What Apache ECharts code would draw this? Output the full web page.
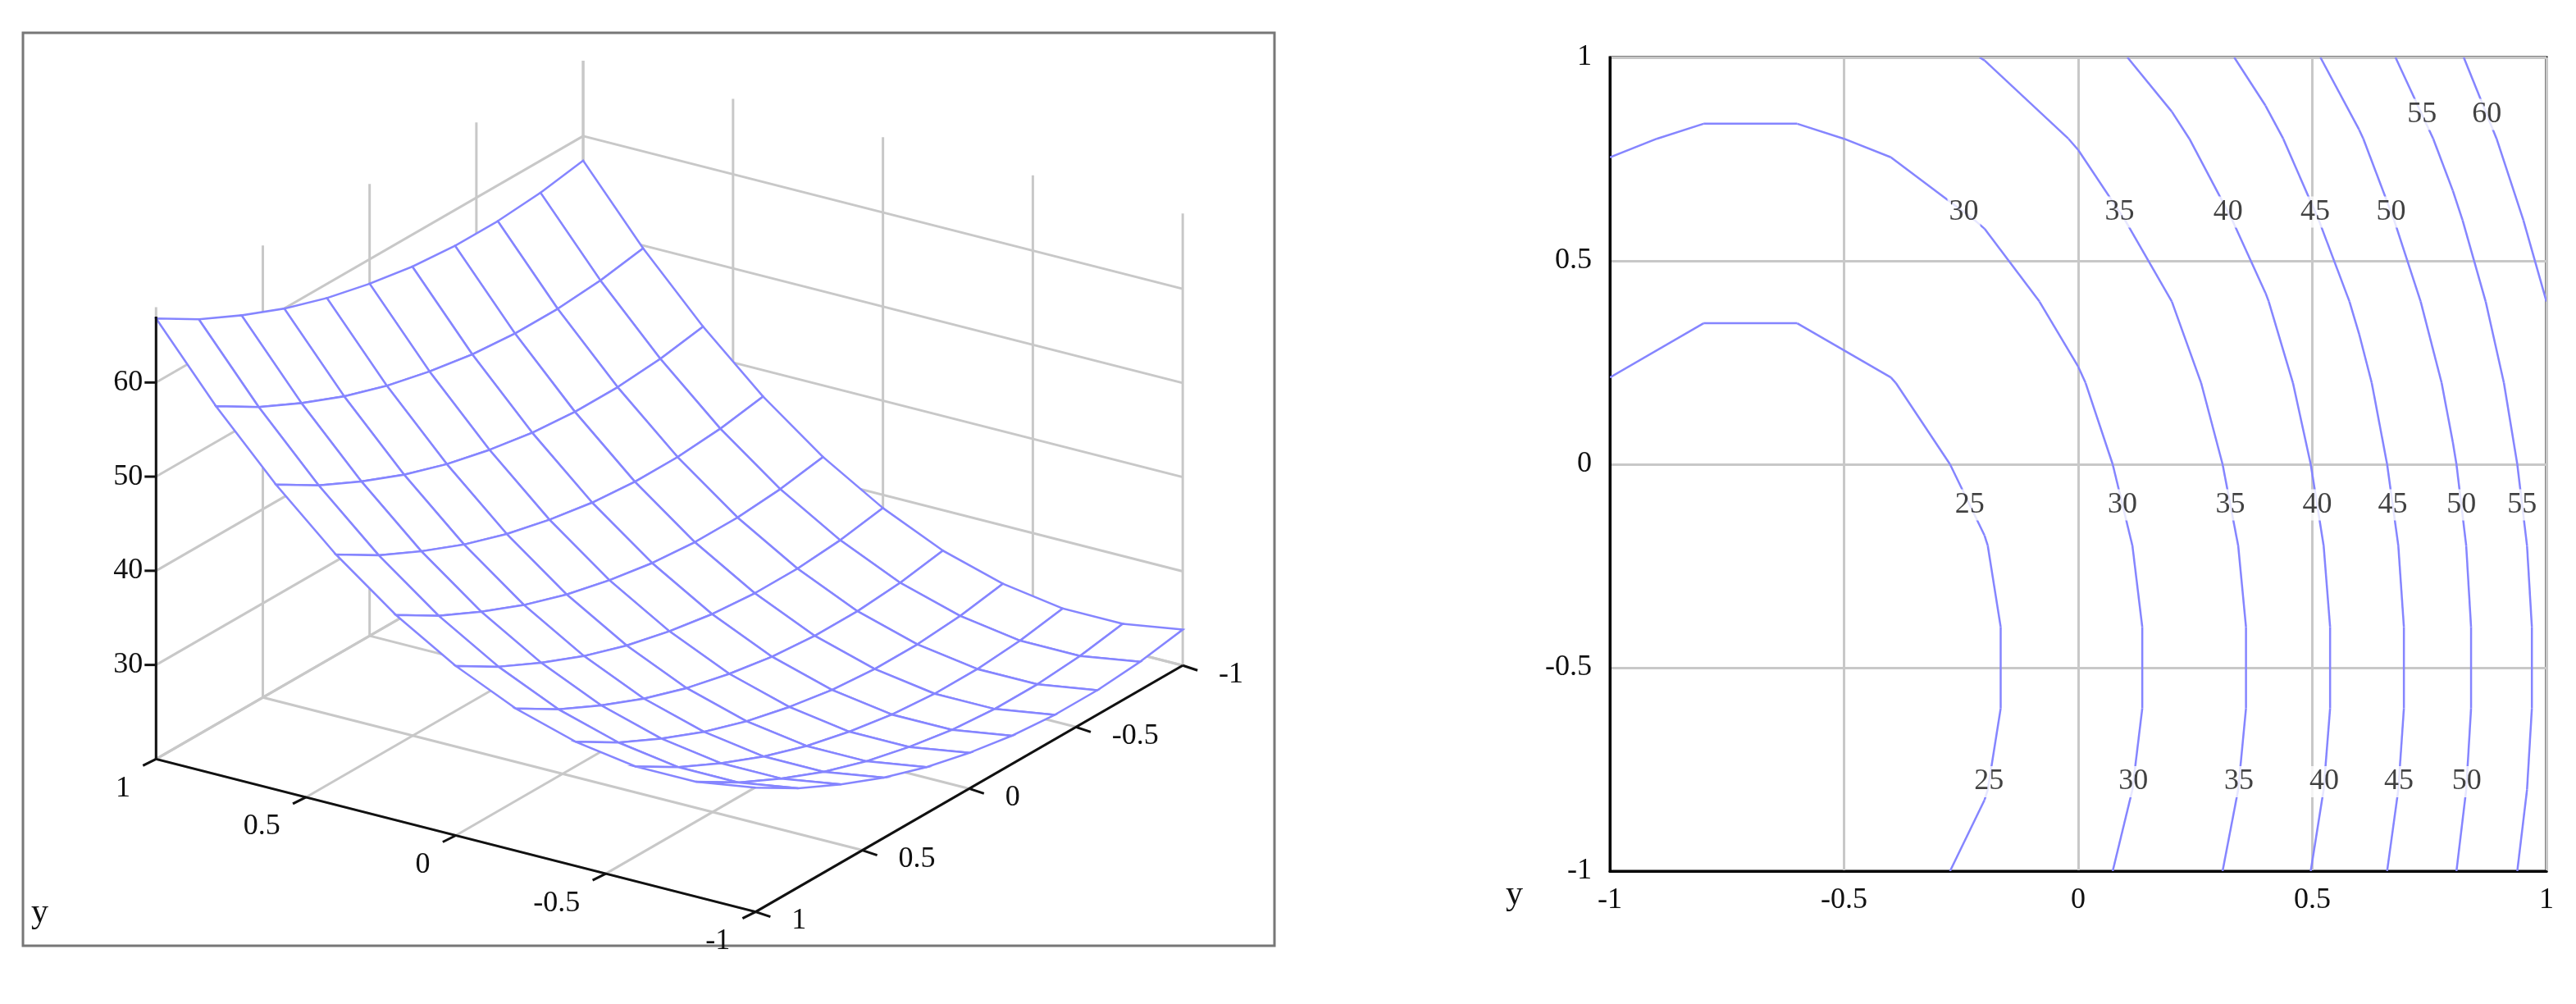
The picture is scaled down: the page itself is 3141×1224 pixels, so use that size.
<!DOCTYPE html>
<html><head><meta charset="utf-8">
<script src="https://cdn.jsdelivr.net/npm/echarts@6/dist/echarts.min.js"></script>
<style>html,body{margin:0;padding:0;background:#fff}#c{width:3141px;height:1224px}</style>
</head><body><div id="c"></div>
<script>
// grid coordinates
const xs = [-1,-0.8,-0.6,-0.4,-0.2,0,0.2,0.4,0.6,0.8,1];
const ys = [-1,-0.8,-0.6,-0.4,-0.2,0,0.2,0.4,0.6,0.8,1];
// z values, one row per y (from y=-1 to y=1), columns along x
const zRows = [
 [23.8,22.8,22.8,23.8,25.7,28.6,32.4,37.2,43.0,49.7,57.4],
 [23.0,22.0,22.0,23.0,24.9,27.8,31.6,36.4,42.2,48.9,56.6],
 [22.6,21.6,21.6,22.6,24.5,27.4,31.2,36.0,41.8,48.5,56.2],
 [22.6,21.6,21.6,22.6,24.5,27.4,31.2,36.0,41.8,48.5,56.2],
 [23.0,22.0,22.0,23.0,24.9,27.8,31.6,36.4,42.2,48.9,56.6],
 [23.8,22.8,22.8,23.8,25.7,28.6,32.4,37.2,43.0,49.7,57.4],
 [24.9,23.9,23.9,24.9,26.8,29.7,33.5,38.3,44.1,50.8,58.5],
 [26.4,25.4,25.4,26.4,28.3,31.2,35.0,39.8,45.6,52.3,60.0],
 [28.3,27.3,27.3,28.3,30.2,33.1,36.9,41.7,47.5,54.2,61.9],
 [30.5,29.5,29.5,30.5,32.4,35.3,39.1,43.9,49.7,56.4,64.1],
 [33.2,32.2,32.2,33.2,35.1,38.0,41.8,46.6,52.4,59.1,66.8]
];
const levels = [25,30,35,40,45,50,55,60];
const planeTicks = [-1,-0.5,0,0.5,1];
const zTicks = [30,40,50,60];
const labelRows = [[-0.1,[25,30,35,40,45,50,55]],[-0.78,[25,30,35,40,45,50]],[0.62,[30,35,40,45,50]],[0.86,[55,60]]];

const FONT = 'Liberation Serif';
const BLUE = '#8585ff';
const FS = 36;
const S = 2.003, Z0 = 20, ZTOP = 68;
function proj(a,b,z){
  return [S*(407.5 - 182.5*a - 130*b), S*(433.5 - 46.5*a + 75*b - (z-Z0)*5.73)];
}
function zAt(i,j){ return zRows[j][i]; }

const quads=[];
for(let j=0;j<ys.length-1;j++)for(let i=0;i<xs.length-1;i++)quads.push([i,j,(xs[i]+xs[i+1])/2-(ys[j]+ys[j+1])/2]);
quads.sort((p,q)=>q[2]-p[2]);

function segments(L){
  const out=[];
  for(let j=0;j<ys.length-1;j++)for(let i=0;i<xs.length-1;i++){
    const c=[[xs[i],ys[j],zAt(i,j)],[xs[i+1],ys[j],zAt(i+1,j)],[xs[i+1],ys[j+1],zAt(i+1,j+1)],[xs[i],ys[j+1],zAt(i,j+1)]];
    const pts=[];
    for(let k=0;k<4;k++){const p=c[k],q=c[(k+1)%4];
      if((p[2]<L)!==(q[2]<L)){const t=(L-p[2])/(q[2]-p[2]);pts.push([p[0]+t*(q[0]-p[0]),p[1]+t*(q[1]-p[1])]);}}
    for(let k=0;k+1<pts.length;k+=2)out.push([pts[k][0],pts[k][1],pts[k+1][0],pts[k+1][1]]);
  }
  return out;
}
const segData=[];levels.forEach(L=>segments(L).forEach(s=>segData.push(s)));
const labData=[];
labelRows.forEach(([y0,lv])=>{
  let j=0;while(j<ys.length-2&&ys[j+1]<y0)j++;
  const t=(y0-ys[j])/(ys[j+1]-ys[j]);
  const row=xs.map((_,i)=>zAt(i,j)*(1-t)+zAt(i,j+1)*t);
  lv.forEach(L=>{let best=null;
    for(let i=0;i<xs.length-1;i++){if((row[i]<L)!==(row[i+1]<L)){const u=(L-row[i])/(row[i+1]-row[i]);best=xs[i]+u*(xs[i+1]-xs[i]);}}
    if(best!==null)labData.push([best,y0,L]);});
});

const chart=echarts.init(document.getElementById('c'));
const line=(api,p,q,st)=>({type:'line',shape:{x1:api.coord(p)[0],y1:api.coord(p)[1],x2:api.coord(q)[0],y2:api.coord(q)[1]},style:st});
const txt=(api,p,s,al,va)=>({type:'text',x:api.coord(p)[0],y:api.coord(p)[1],style:{text:s,font:FS+'px "'+FONT+'"',fill:'#111',align:al,verticalAlign:va}});
chart.setOption({
  animation:false,
  grid:[{left:0,top:0,width:3141,height:1224,show:false},
        {left:1963,top:70,width:1142,height:992,show:true,borderColor:'#000',borderWidth:3,z:0}],
  xAxis:[{gridIndex:0,type:'value',min:0,max:3141,show:false},
         {gridIndex:1,type:'value',min:-1,max:1,interval:0.5,axisLine:{onZero:false,lineStyle:{color:'#000',width:3}},axisTick:{show:false},
          splitLine:{lineStyle:{color:'#c8c8c8',width:3}},axisLabel:{fontFamily:FONT,fontSize:FS,color:'#111',margin:18}}],
  yAxis:[{gridIndex:0,type:'value',min:0,max:1224,inverse:true,show:false},
         {gridIndex:1,type:'value',min:-1,max:1,interval:0.5,axisLine:{onZero:false,lineStyle:{color:'#000',width:3}},axisTick:{show:false},
          splitLine:{lineStyle:{color:'#c8c8c8',width:3}},axisLabel:{fontFamily:FONT,fontSize:FS,color:'#111',margin:22}}],
  graphic:[
    {type:'rect',shape:{x:28,y:40,width:1526,height:1113},style:{fill:'none',stroke:'#777',lineWidth:3}},
    {type:'text',left:38,top:1092,style:{text:'y',font:'42px "'+FONT+'"',fill:'#111'}},
    {type:'text',left:1836,top:1070,style:{text:'y',font:'42px "'+FONT+'"',fill:'#111'}}
  ],
  series:[
    {type:'custom',xAxisIndex:0,yAxisIndex:0,data:[0],z:1,renderItem:(p,api)=>{
      const ch=[];const g={stroke:'#c8c8c8',lineWidth:3};
      planeTicks.forEach(t=>{
        ch.push(line(api,proj(t,-1,Z0),proj(t,1,Z0),g));
        ch.push(line(api,proj(-1,t,Z0),proj(1,t,Z0),g));
        ch.push(line(api,proj(1,t,Z0),proj(1,t,ZTOP),g));
        ch.push(line(api,proj(t,-1,Z0),proj(t,-1,ZTOP),g));
      });
      zTicks.concat([Z0]).forEach(z=>{
        ch.push(line(api,proj(1,-1,z),proj(1,1,z),g));
        ch.push(line(api,proj(1,-1,z),proj(-1,-1,z),g));
      });
      return {type:'group',children:ch};
    }},
    {type:'custom',xAxisIndex:0,yAxisIndex:0,data:quads,z:2,renderItem:(p,api)=>{
      const i=api.value(0),j=api.value(1);
      const pts=[[i,j],[i+1,j],[i+1,j+1],[i,j+1]].map(([a,b])=>api.coord(proj(xs[a],ys[b],zAt(a,b))));
      return {type:'polygon',shape:{points:pts},style:{fill:'#fff',stroke:BLUE,lineWidth:2.5}};
    }},
    {type:'custom',xAxisIndex:0,yAxisIndex:0,data:[0],z:3,renderItem:(p,api)=>{
      const ch=[];const k={stroke:'#111',lineWidth:3};
      ch.push(line(api,proj(1,1,Z0),proj(-1,1,Z0),k));
      ch.push(line(api,proj(-1,1,Z0),proj(-1,-1,Z0),k));
      ch.push(line(api,proj(1,1,Z0),proj(1,1,ZTOP-1),k));
      planeTicks.forEach(t=>{
        const a=api.coord(proj(t,1,Z0));ch.push({type:'line',shape:{x1:a[0],y1:a[1],x2:a[0]-16,y2:a[1]+8},style:k});
        ch.push(txt(api,proj(t,1.12,Z0),String(t),'right','top'));
        const b=api.coord(proj(-1,t,Z0));ch.push({type:'line',shape:{x1:b[0],y1:b[1],x2:b[0]+18,y2:b[1]+6},style:k});
        ch.push(txt(api,proj(-1.12,t,Z0),String(t),'left','middle'));
      });
      zTicks.forEach(z=>{const c=api.coord(proj(1,1,z));
        ch.push({type:'line',shape:{x1:c[0],y1:c[1],x2:c[0]-14,y2:c[1]},style:k});
        ch.push({type:'text',x:c[0]-16,y:c[1],style:{text:String(z),font:FS+'px "'+FONT+'"',fill:'#111',align:'right',verticalAlign:'middle'}});});
      return {type:'group',children:ch};
    }},
    {type:'custom',xAxisIndex:1,yAxisIndex:1,data:segData,z:3,clip:true,renderItem:(p,api)=>{
      const a=api.coord([api.value(0),api.value(1)]),b=api.coord([api.value(2),api.value(3)]);
      return {type:'line',shape:{x1:a[0],y1:a[1],x2:b[0],y2:b[1]},style:{stroke:BLUE,lineWidth:2.5}};
    }},
    {type:'scatter',xAxisIndex:1,yAxisIndex:1,data:labData,symbolSize:0,z:4,
     label:{show:true,position:'inside',formatter:p=>p.value[2],fontFamily:FONT,fontSize:FS,color:'#111',backgroundColor:'#fff',padding:[1,2]}}
  ]
});
</script></body></html>
